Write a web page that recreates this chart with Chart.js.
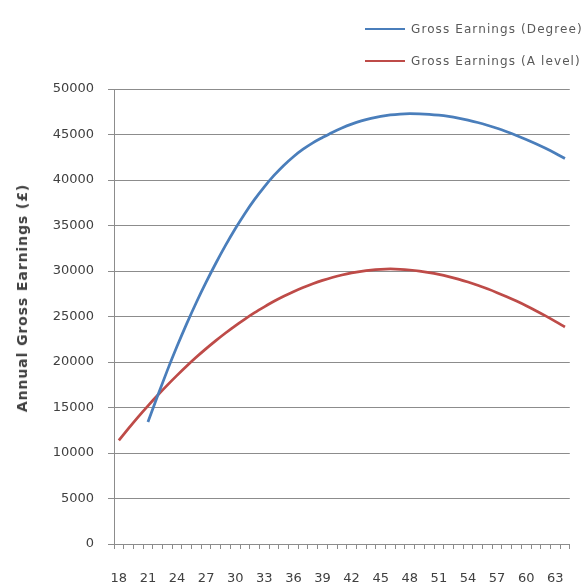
<!DOCTYPE html>
<html><head><meta charset="utf-8">
<script src="https://cdn.jsdelivr.net/npm/chart.js@4/dist/chart.umd.min.js"></script>
<style>
html,body{margin:0;padding:0;background:#fff;overflow:hidden;width:587px;height:587px}
#wrap{position:relative;width:587px;height:587px;overflow:hidden}
canvas{position:absolute;left:0;top:0}
.leg{position:absolute;left:365px;white-space:nowrap;font:12px "DejaVu Sans",sans-serif;letter-spacing:1.1px;color:#595959;line-height:16px}
.leg .sw{display:inline-block;width:40px;height:2px;vertical-align:middle;margin-right:6px;position:relative;top:-1px}
#ytitle{position:absolute;left:22px;top:298px;transform:translate(-50%,-50%) rotate(-90deg);white-space:nowrap;font:bold 14px "DejaVu Sans",sans-serif;letter-spacing:0.9px;color:#404040}
</style></head>
<body>
<div id="wrap">
<canvas id="c" width="587" height="587"></canvas>
<div id="legend"></div>
<div id="ytitle">Annual Gross Earnings (£)</div>
</div>
<script>
const ageLabels = ['18','19','20','21','22','23','24','25','26','27','28','29','30','31','32','33','34','35','36','37','38','39','40','41','42','43','44','45','46','47','48','49','50','51','52','53','54','55','56','57','58','59','60','61','62','63','64'];
const seriesNames = ['Gross Earnings (Degree)', 'Gross Earnings (A level)'];
const degreeEarnings = [null,null,null,13400,16300,19080,21720,24220,26570,28770,30850,32810,34640,36330,37870,39250,40500,41600,42560,43380,44080,44670,45230,45720,46140,46490,46770,46990,47150,47250,47300,47280,47220,47120,46980,46800,46580,46320,46020,45680,45300,44890,44450,43980,43480,42940,42360];
const aLevelEarnings = [11400,12700,13970,15180,16340,17460,18530,19560,20540,21470,22350,23190,23980,24720,25420,26060,26670,27220,27730,28190,28600,28970,29290,29560,29790,29970,30100,30180,30220,30190,30110,29990,29830,29630,29390,29110,28790,28430,28040,27620,27170,26690,26180,25640,25070,24470,23840];
const yTickValues = [0,5000,10000,15000,20000,25000,30000,35000,40000,45000,50000];

const colors = ['#4A7EBB', '#BE4B48'];
const gridColor = '#8c8c8c';
const tickFont = {family: '"DejaVu Sans", sans-serif', size: 13};

// HTML legend built from the series names
const legend = document.getElementById('legend');
const legendTops = [21, 53];
seriesNames.forEach((name, i) => {
  const d = document.createElement('div');
  d.className = 'leg';
  d.style.top = legendTops[i] + 'px';
  const sw = document.createElement('span');
  sw.className = 'sw';
  sw.style.background = colors[i];
  d.appendChild(sw);
  d.appendChild(document.createTextNode(name));
  legend.appendChild(d);
});

new Chart(document.getElementById('c'), {
  type: 'line',
  data: {
    labels: ageLabels,
    datasets: [
      {label: seriesNames[0], data: degreeEarnings, borderColor: colors[0], backgroundColor: colors[0], borderWidth: 2.75, pointRadius: 0, cubicInterpolationMode: 'monotone', fill: false},
      {label: seriesNames[1], data: aLevelEarnings, borderColor: colors[1], backgroundColor: colors[1], borderWidth: 2.75, pointRadius: 0, cubicInterpolationMode: 'monotone', fill: false}
    ]
  },
  options: {
    responsive: false,
    animation: false,
    layout: {padding: {top: 89, right: 5, bottom: 0, left: 0}},
    plugins: {legend: {display: false}, tooltip: {enabled: false}},
    scales: {
      x: {
        type: 'category',
        offset: true,
        grid: {display: true, drawOnChartArea: false, drawTicks: true, tickLength: 5, offset: true, color: gridColor},
        border: {display: true, color: gridColor, width: 1},
        ticks: {
          autoSkip: false, maxRotation: 0, minRotation: 0, padding: 22,
          color: '#404040', font: tickFont,
          callback: function(v, i) { return i % 3 === 0 ? this.getLabelForValue(v) : ''; }
        },
        afterFit: s => { s.height = 43; }
      },
      y: {
        min: 0, max: 50000,
        afterBuildTicks: s => { s.ticks = yTickValues.map(v => ({value: v})); },
        grid: {color: gridColor, tickLength: 6, drawTicks: true},
        border: {display: true, color: gridColor, width: 1},
        ticks: {padding: 14, color: '#404040', font: tickFont, callback: v => String(v)},
        afterFit: s => { s.width = 114; }
      }
    }
  }
});
</script>
</body></html>
